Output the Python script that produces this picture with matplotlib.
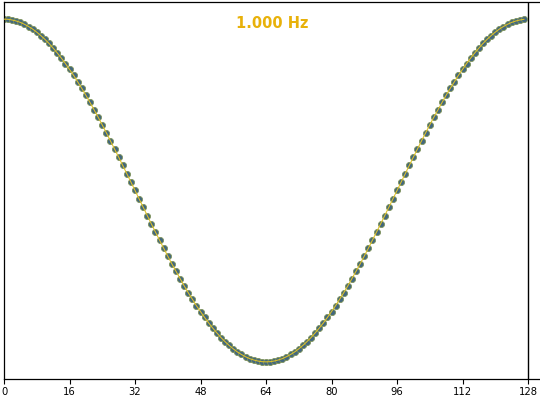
import matplotlib
matplotlib.use("Agg")
import matplotlib.pyplot as plt

samples = [
    1.000, 0.999, 0.995, 0.989, 0.981, 0.970, 0.957, 0.942, 0.924, 0.904, 0.882, 0.858, 0.831, 0.803, 0.773, 0.741,
    0.707, 0.672, 0.634, 0.596, 0.556, 0.514, 0.471, 0.428, 0.383, 0.337, 0.290, 0.243, 0.195, 0.147, 0.098, 0.049,
    0.000, -0.049, -0.098, -0.147, -0.195, -0.243, -0.290, -0.337, -0.383, -0.428, -0.471, -0.514, -0.556, -0.596, -0.634, -0.672,
    -0.707, -0.741, -0.773, -0.803, -0.831, -0.858, -0.882, -0.904, -0.924, -0.942, -0.957, -0.970, -0.981, -0.989, -0.995, -0.999,
    -1.000, -0.999, -0.995, -0.989, -0.981, -0.970, -0.957, -0.942, -0.924, -0.904, -0.882, -0.858, -0.831, -0.803, -0.773, -0.741,
    -0.707, -0.672, -0.634, -0.596, -0.556, -0.514, -0.471, -0.428, -0.383, -0.337, -0.290, -0.243, -0.195, -0.147, -0.098, -0.049,
    0.000, 0.049, 0.098, 0.147, 0.195, 0.243, 0.290, 0.337, 0.383, 0.428, 0.471, 0.514, 0.556, 0.596, 0.634, 0.672,
    0.707, 0.741, 0.773, 0.803, 0.831, 0.858, 0.882, 0.904, 0.924, 0.942, 0.957, 0.970, 0.981, 0.989, 0.995, 0.999,
]
sample_index = list(range(len(samples)))
xticks = [0, 16, 32, 48, 64, 80, 96, 112, 128]
title_text = "1.000 Hz"
window_end = 128

W, H = 540, 398
fig = plt.figure(figsize=(W / 100, H / 100), dpi=100)
left, right, top, bottom = 4, 540, 2, 379
ax = fig.add_axes([left / W, 1 - bottom / H, (right - left) / W, (bottom - top) / H])

ax.plot(sample_index, samples, linestyle="none", marker="o", markersize=4.4,
        markerfacecolor="#42677e", markeredgecolor="#7f935a", markeredgewidth=0.6, zorder=2)
ax.plot(sample_index, samples, color="#e0c225", linewidth=0.75, zorder=3)
ax.axvline(window_end, color="black", linewidth=1.0, zorder=1)

px_per_unit = (528 - 4) / 128.0
ax.set_xlim(0, (right - left) / px_per_unit)
ax.set_ylim(-1.1, 1.1)
ax.set_xticks(xticks)
ax.set_xticklabels([str(t) for t in xticks])
ax.set_yticks([])
ax.tick_params(axis="x", labelsize=7.2, length=3.5, width=0.8, pad=2)
ax.spines["right"].set_visible(False)
for s in ["left", "top", "bottom"]:
    ax.spines[s].set_linewidth(0.9)

ax.text(0.5, 0.944, title_text, transform=ax.transAxes, ha="center", va="center",
        fontsize=10.5, fontweight="bold", color="#e8b10a")

fig.savefig("out.png", dpi=100)
